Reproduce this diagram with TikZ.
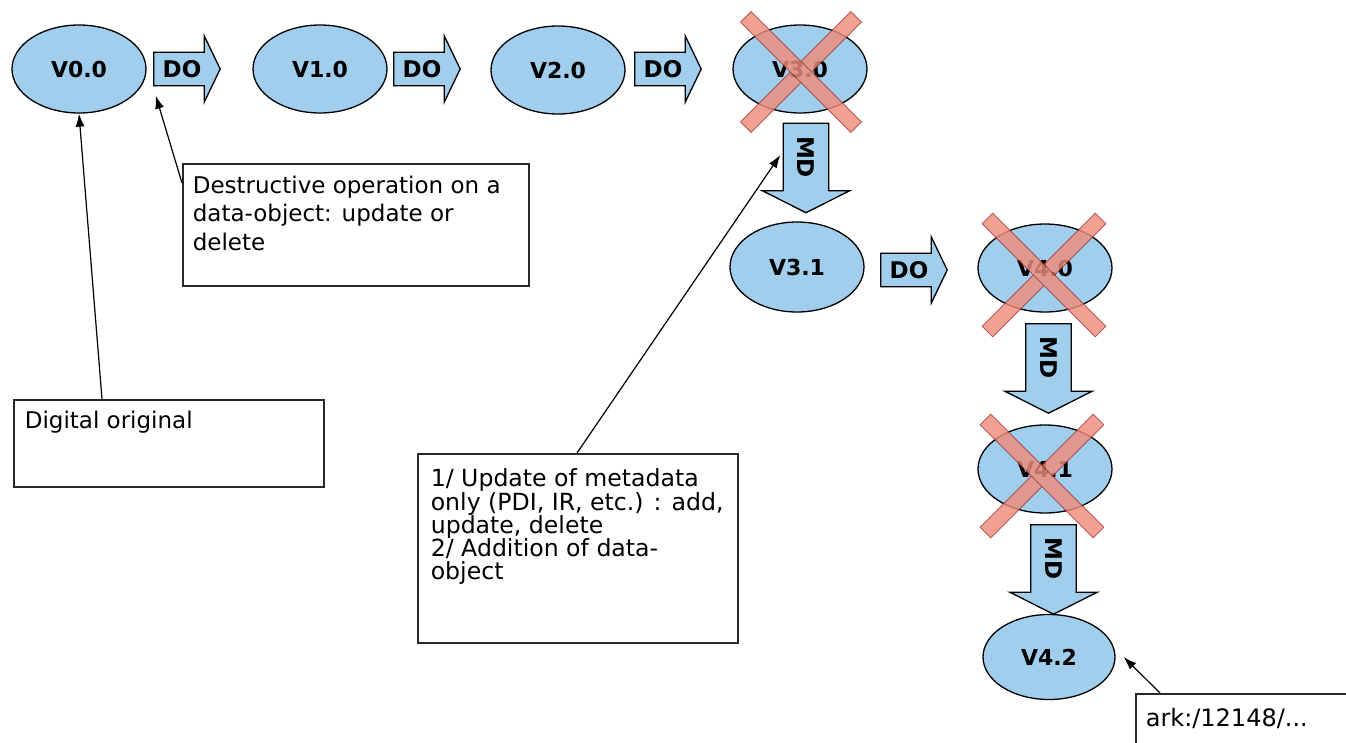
\documentclass[tikz,border=0pt]{standalone}
\usepackage{fontspec}
\setmainfont{DejaVu Sans}
\usetikzlibrary{shapes.geometric,arrows.meta,calc,backgrounds}

\definecolor{verblue}{RGB}{160,206,236}
\definecolor{xfill}{RGB}{238,140,122}
\definecolor{xedge}{RGB}{150,40,40}
\definecolor{boxedge}{RGB}{40,40,40}

% text of a note box: width, height, line distance, font size, lines
\newcommand\notetext[5]{\parbox[t][#2][t]{#1}{\fontsize{#4}{#3}\selectfont\raggedright #5}}
% block arrow pointing right, drawn around the shaft node #1
\newcommand\rightblock[1]{%
  \draw[blockarrow] (#1.north west) -- (#1.north east) -- ++(0,-16.5)
    -- ($(#1.east)+(16,0)$) -- ($(#1.south east)+(0,16.5)$)
    -- (#1.south east) -- (#1.south west) -- cycle;}
% block arrow pointing down, drawn around the shaft node #1
\newcommand\downblock[1]{%
  \draw[blockarrow] (#1.north west) -- (#1.north east) -- (#1.south east)
    -- ++(21,0) -- ($(#1.south)+(0,22)$) -- ($(#1.south west)+(-21,0)$)
    -- (#1.south west) -- cycle;}

\begin{document}
\begin{tikzpicture}[x=1pt,y=-1pt,
  ver/.style={ellipse, draw=black, line width=1.3pt, fill=verblue,
    minimum width=134pt, minimum height=88pt, inner sep=0pt,
    font=\bfseries\fontsize{22}{26}\selectfont},
  doshaft/.style={minimum width=50pt, minimum height=33pt, inner sep=0pt,
    font=\bfseries\fontsize{23}{26}\selectfont},
  mdshaft/.style={minimum width=45pt, minimum height=67pt, inner sep=0pt,
    font=\bfseries\fontsize{23}{26}\selectfont},
  blockarrow/.style={draw=black, line width=1.3pt, fill=verblue, line join=miter},
  note/.style={draw=boxedge, line width=1.6pt, fill=white, anchor=north west,
    inner xsep=11pt},
  conn/.style={draw=black, line width=1.2pt, -{Latex[length=13pt,width=9pt]}},
  xbar/.style={fill=xfill, draw=xedge, line width=0.8pt},
  pics/xmark/.style={code={
    \begin{scope}[transparency group, opacity=0.82]
      \filldraw[xbar, rotate=45] (-#1,-7.5) rectangle (#1,7.5);
      \filldraw[xbar, rotate=-45] (-#1,-7.5) rectangle (#1,7.5);
    \end{scope}}}
]
\clip (0,0) rectangle (1346,742);

% versions
\node[ver] (v00) at (79,69) {V0.0};
\node[ver] (v10) at (320,69) {V1.0};
\node[ver] (v20) at (558,70) {V2.0};
\node[ver] (v30) at (800,69) {V3.0};
\node[ver, minimum height=90pt] (v31) at (797,267) {V3.1};
\node[ver] (v40) at (1045,268) {V4.0};
\node[ver] (v41) at (1045,469) {V4.1};
\node[ver, minimum width=132pt, minimum height=85pt] (v42) at (1049,657) {V4.2};

% operations
\node[doshaft] (do1) at (179,69) {\hspace*{6pt}DO};
\node[doshaft] (do2) at (419,69) {\hspace*{6pt}DO};
\node[doshaft] (do3) at (660,69) {\hspace*{6pt}DO};
\node[doshaft] (do4) at (906,270) {\hspace*{6pt}DO};
\node[mdshaft] (md1) at (806,157) {\rotatebox{-90}{MD}};
\node[mdshaft] (md2) at (1048.5,357.5) {\rotatebox{-90}{MD}};
\node[mdshaft] (md3) at (1053.5,558.5) {\rotatebox{-90}{MD}};

\begin{scope}[on background layer]
  \fill[white] (0,0) rectangle (1346,742);
  \rightblock{do1}
  \rightblock{do2}
  \rightblock{do3}
  \rightblock{do4}
  \downblock{md1}
  \downblock{md2}
  \downblock{md3}
\end{scope}

% superseded versions
\pic at (801,72) {xmark=78};
\pic at (1044,275) {xmark=80};
\pic at (1042,476) {xmark=80};

% notes
\node[note, inner ysep=11.5pt] (dig) at (13,399)
  {\notetext{288pt}{64pt}{26pt}{23}{Digital original}};
\node[note, inner xsep=10pt, inner ysep=12pt] (dest) at (182,163)
  {\notetext{326pt}{98pt}{28.5pt}{23}{Destructive operation on a\\
   data-object: update or\\ delete}};
\node[note, inner xsep=13pt, inner ysep=15pt] (upd) at (417,453)
  {\notetext{294pt}{159pt}{23.3pt}{23.6}{1/ Update of metadata\\
   only (PDI, IR, etc.) : add,\\ update, delete\\
   2/ Addition of data-\\ object}};
\node[note, inner xsep=10pt, inner ysep=14pt] (ark) at (1135,693)
  {\notetext{250pt}{80pt}{26pt}{24}{ark:/12148/...}};

% annotations
\draw[conn] ($(dig.north west)+(89,0)$) -- (v00.south);
\draw[conn] ($(dest.north west)+(0,20)$) -- ($(do1.south west)+(2,10)$);
\draw[conn] ($(upd.north west)+(160,0)$) -- ($(md1.west)+(-3,-2)$);
\draw[conn] ($(ark.north west)+(25,0)$) -- ($(v42.east)+(8,0)$);
\end{tikzpicture}
\end{document}
